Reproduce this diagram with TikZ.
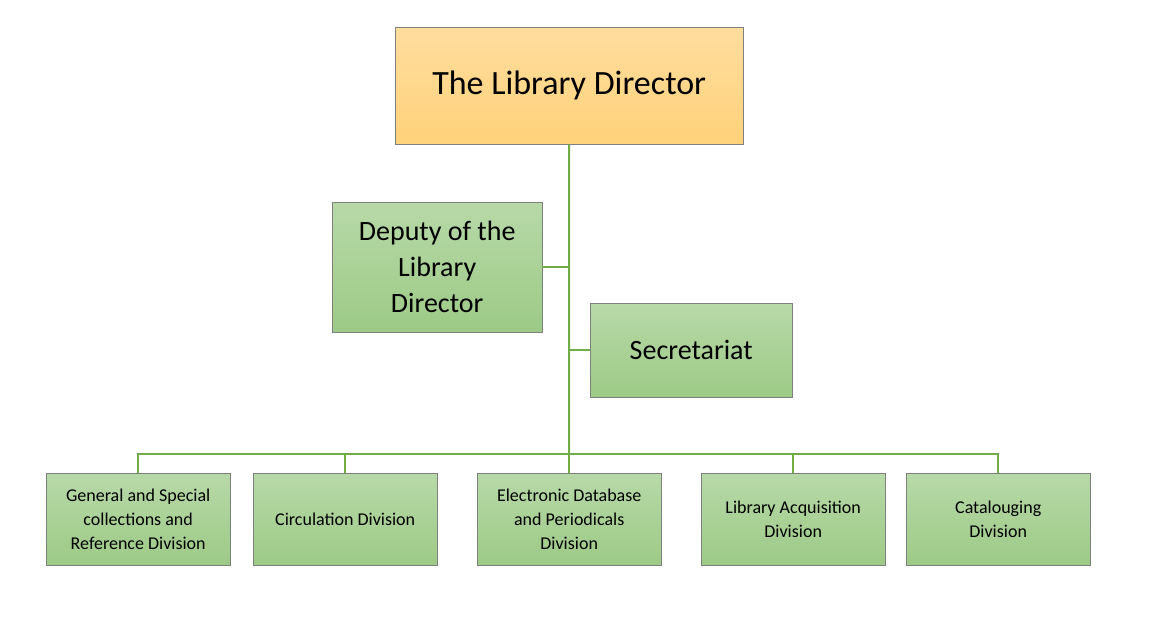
\documentclass[tikz,border=0pt]{standalone}
\usepackage{fontspec}
\setmainfont{Carlito}
\definecolor{ln}{HTML}{70AD47}
\definecolor{gtop}{HTML}{B7D9A8}
\definecolor{gbot}{HTML}{9DCA86}
\definecolor{otop}{HTML}{FFDD9E}
\definecolor{obot}{HTML}{FFD27A}
\definecolor{bd}{HTML}{7F7F7F}
\begin{document}
\begin{tikzpicture}[x=1pt,y=-1pt,
  gbox/.style={draw=bd,top color=gtop,bottom color=gbot,align=center,inner sep=0pt,anchor=north west},
  obox/.style={draw=bd,top color=otop,bottom color=obot,align=center,inner sep=0pt,anchor=north west},
  conn/.style={draw=ln,line width=2pt}]
\useasboundingbox (0,0) rectangle (1151,622);
\node[obox,minimum width=348pt,minimum height=117pt,font=\fontsize{34}{40}\selectfont] (dir) at (395,27) {The Library Director};
\node[gbox,minimum width=210pt,minimum height=130pt,font=\fontsize{28}{36}\selectfont] (dep) at (332,202) {Deputy of the\\Library\\Director};
\node[gbox,minimum width=202pt,minimum height=94pt,font=\fontsize{28}{34}\selectfont] (sec) at (590,303) {Secretariat};
\foreach \n/\x/\t in {a/46/{General and Special\\collections and\\Reference Division},
  b/253/{Circulation Division},
  c/477/{Electronic Database\\and Periodicals\\Division},
  d/701/{Library Acquisition\\Division},
  e/906/{Catalouging\\Division}}
  \node[gbox,minimum width=184pt,minimum height=92pt,font=\fontsize{18}{24}\selectfont] (\n) at (\x,473) {\t};
\coordinate (bus) at (569,454);
\draw[conn] (dir.south) -- (bus);
\draw[conn] (dep.east) -- (dep.east -| dir.south);
\draw[conn] (sec.west) -- (sec.west -| dir.south);
\draw[conn] (a.north) -- (a.north |- bus) -- (e.north |- bus) -- (e.north);
\foreach \n in {b,c,d} \draw[conn] (\n.north) -- (\n.north |- bus);
\end{tikzpicture}
\end{document}
